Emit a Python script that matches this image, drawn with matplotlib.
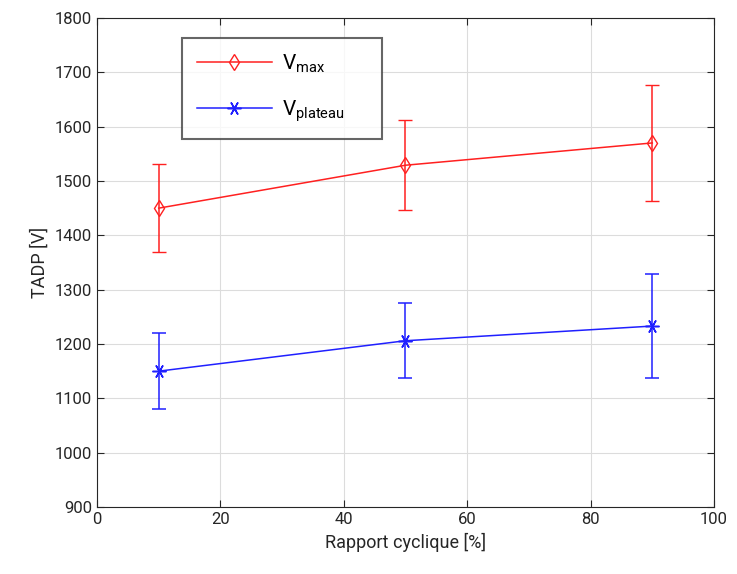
import matplotlib.pyplot as plt

plt.rcParams['font.family'] = ['Roboto', 'DejaVu Sans']

rapport = [10, 50, 90]
v_max = [1450, 1529, 1570]
v_max_err = [81, 83, 106]
v_plateau = [1150, 1206, 1233]
v_plateau_err = [70, 69, 96]

fig = plt.figure(figsize=(7.37, 5.74), dpi=100)
ax = fig.add_axes([0.1316, 0.1167, 0.8372, 0.852])

eb1 = ax.errorbar(rapport, v_max, yerr=v_max_err, color='#ff2020', marker='d', mfc='none',
                  ms=8, lw=1.1, capsize=5)
eb2 = ax.errorbar(rapport, v_plateau, yerr=v_plateau_err, color='#2020ff', marker=(6, 2, 90),
                  ms=10, mew=1.1, lw=1.1, capsize=5)

ax.set_xlim(0, 100)
ax.set_ylim(900, 1800)
ax.set_xticks(range(0, 101, 20))
ax.set_yticks(range(900, 1801, 100))
ax.grid(True, color='#dcdcdc', lw=0.8)
ax.set_axisbelow(True)
ax.tick_params(direction='in', top=True, right=True, labelsize=12, colors='#262626', length=5)
for s in ax.spines.values():
    s.set_color('#262626')
ax.set_xlabel('Rapport cyclique [%]', fontsize=13, color='#262626')
ax.set_ylabel('TADP [V]', fontsize=13, color='#262626')

leg = ax.legend([eb1[0], eb2[0]],
                [r'V$_{\mathregular{max}}$', r'V$_{\mathregular{plateau}}$' + '     '],
                loc='upper left', bbox_to_anchor=(0.138, 0.959), borderaxespad=0,
                fontsize=15, fancybox=False, edgecolor='#404040', handlelength=3.6,
                borderpad=0.7, labelspacing=1.1, handletextpad=0.5)
leg.get_frame().set_linewidth(1.5)

fig.savefig('out.png')
